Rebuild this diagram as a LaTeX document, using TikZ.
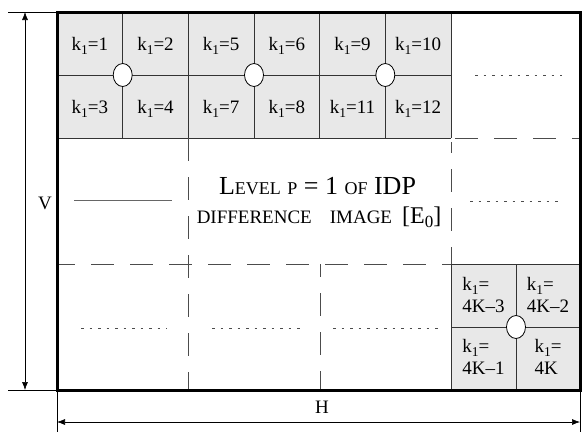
\documentclass[tikz,border=0pt]{standalone}
\usepackage{fontspec}
\setmainfont{Liberation Serif}
\usetikzlibrary{arrows.meta}
% lowered index digit and hand-made small capitals
\newcommand\idx[1]{\raisebox{-0.5ex}{\fontsize{13.5}{13.5}\selectfont #1}}
\newcommand\smc[1]{{\fontsize{18}{18}\selectfont #1}}
\newcommand\smcb[1]{{\fontsize{19}{19}\selectfont #1}}
\newcommand\kk[1]{k\idx{1}=#1}

\begin{document}
\begin{tikzpicture}[x=1pt,y=-1pt,
  cellgrid/.style={draw=black!80, line width=0.8pt},
  shade/.style={fill=black!9},
  hub/.style={draw=black, line width=0.8pt, fill=white},
  border/.style={draw=black, line width=3pt},
  split/.style={draw=black!70, line width=1pt, dash pattern=on 23pt off 16pt},
  gap/.style={draw=black!70, line width=1pt, dash pattern=on 2.5pt off 6pt},
  dim/.style={draw=black, line width=0.6pt},
  dimarrow/.style={dim, {Latex[length=8pt,width=6pt]}-{Latex[length=8pt,width=6pt]}},
  lbl/.style={font=\fontsize{19}{22}\selectfont, inner sep=0pt},
  blk/.style={lbl, align=left}]

\useasboundingbox (0,0) rectangle (586,432);

% shaded blocks of cells
\fill[shade] (57,12) rectangle (451,138);
\fill[shade] (451,264) rectangle (580,390);

% cell grid, top block
\foreach \x in {122.7,188.3,254,319.7,385.3,451}
  \draw[cellgrid] (\x,12) -- (\x,138);
\draw[cellgrid] (57,75) -- (451,75);
\draw[cellgrid] (57,138) -- (451,138);
% cell grid, corner block
\draw[cellgrid] (451,264) -- (451,390);
\draw[cellgrid] (516,264) -- (516,390);
\draw[cellgrid] (451,327) -- (580,327);
\draw[cellgrid] (451,264) -- (580,264);

% hubs at the centres of each group of four
\foreach \x in {122.7,254,385.3}
  \draw[hub] (\x,75) ellipse [x radius=9.5pt, y radius=11.5pt];
\draw[hub] (516,327) ellipse [x radius=9.5pt, y radius=11.5pt];

% dashed subdivisions
\draw[split] (455,138) -- (580,138);
\draw[split, dash phase=5pt] (57,264) -- (451,264);
\draw[split] (188.3,138) -- (188.3,390);
\draw[split, dash phase=12pt] (451,142) -- (451,264);
\draw[split, dash phase=10pt] (320,264) -- (320,390);

% continuation marks
\draw[gap] (475,75) -- (562,75);
\draw[draw=black!60, line width=0.8pt] (74,200.5) -- (172,200.5);
\draw[gap] (470,201) -- (563,201);
\draw[gap] (81,328) -- (167,328);
\draw[gap] (212,328) -- (300,328);
\draw[gap] (333,328) -- (438,328);

% outer frame
\draw[border] (57,12) rectangle (580,390);

% labels of the top cells
\node[lbl, anchor=base] (c1)  at (89.8,50)  {\kk{1}};
\node[lbl, anchor=base] (c2)  at (155.5,50) {\kk{2}};
\node[lbl, anchor=base] (c5)  at (221.2,50) {\kk{5}};
\node[lbl, anchor=base] (c6)  at (286.8,50) {\kk{6}};
\node[lbl, anchor=base] (c9)  at (352.5,50) {\kk{9}};
\node[lbl, anchor=base] (c10) at (418.2,50) {\kk{10}};
\node[lbl, anchor=base] (c3)  at (89.8,113)  {\kk{3}};
\node[lbl, anchor=base] (c4)  at (155.5,113) {\kk{4}};
\node[lbl, anchor=base] (c7)  at (221.2,113) {\kk{7}};
\node[lbl, anchor=base] (c8)  at (286.8,113) {\kk{8}};
\node[lbl, anchor=base] (c11) at (352.5,113) {\kk{11}};
\node[lbl, anchor=base] (c12) at (418.2,113) {\kk{12}};

% labels of the corner cells
\node[blk] (d1) at (483.5,295) {\kk{}\\4K–3};
\node[blk] (d2) at (548,295)   {\kk{}\\4K–2};
\node[blk] (d3) at (483.5,357) {\kk{}\\4K–1};
\node[blk] (d4) at (548,357)   {\kk{}\\4K};

% title of the level
\node[inner sep=0pt, anchor=base, font=\fontsize{26}{26}\selectfont] (t1) at (317.5,194)
  {L\smc{EVEL} \smc{P} = 1 \smc{OF} IDP};
\node[inner sep=0pt, anchor=base, font=\fontsize{24}{24}\selectfont] (t2) at (319,223)
  {\smcb{DIFFERENCE}\hspace{18pt}\smcb{IMAGE}\hspace{10pt}[E\raisebox{-0.45ex}{\fontsize{17}{17}\selectfont 0}]};

% dimension V
\coordinate (vt) at (25,12);
\coordinate (vb) at (25,390);
\draw[dim] (8,12) -- (57,12);
\draw[dim] (8,390) -- (57,390);
\draw[dimarrow] (vt) -- (vb);
\node[lbl] (V) at (45,203) {V};

% dimension H
\coordinate (hl) at (57,422);
\coordinate (hr) at (580,422);
\draw[dim] (57,390) -- (57,432);
\draw[dim] (580,390) -- (580,432);
\draw[dimarrow] (hl) -- (hr);
\node[lbl] (H) at (322,407) {H};
\end{tikzpicture}
\end{document}
